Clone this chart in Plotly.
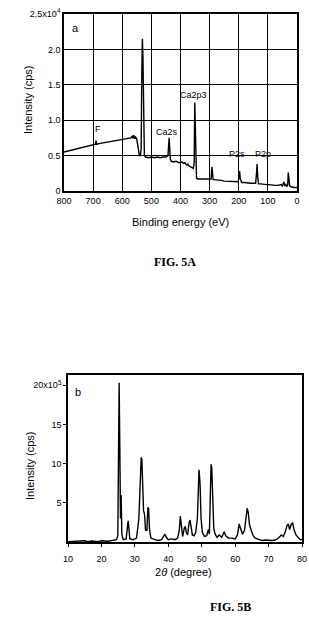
import plotly.graph_objects as go

# ---- FIG. 5A : XPS survey ----
xps_energy = [800, 760, 720, 700, 692, 690, 688, 680, 640, 600, 580, 570, 566, 563, 560, 557, 554, 550,
              545, 541, 538, 535, 533, 531, 529, 527, 524, 520, 510, 500, 490, 480, 470, 460, 450, 443,
              441, 439, 437, 435, 432, 425, 415, 405, 395, 390, 385, 380, 375, 370, 365, 360, 356, 353,
              351, 349, 347, 345, 340, 330, 320, 310, 300, 295, 292, 290, 288, 285, 280, 270, 260, 250,
              240, 230, 220, 210, 202, 199, 197, 195, 193, 190, 180, 170, 160, 150, 142, 139, 137, 135,
              132, 125, 115, 105, 95, 85, 75, 65, 55, 50, 45, 42, 38, 35, 32, 30, 28, 25, 20, 15, 10, 5, 0]
xps_intensity = [0.55, 0.59, 0.63, 0.65, 0.66, 0.71, 0.66, 0.67, 0.70, 0.73, 0.74, 0.75, 0.78, 0.74, 0.79, 0.74, 0.76, 0.73,
                 0.60, 0.50, 0.50, 0.60, 1.60, 2.15, 1.90, 0.80, 0.50, 0.48, 0.47, 0.48, 0.47, 0.48, 0.47, 0.48, 0.48, 0.50,
                 0.62, 0.75, 0.60, 0.45, 0.42, 0.41, 0.42, 0.40, 0.41, 0.39, 0.40, 0.37, 0.38, 0.35, 0.34, 0.33, 0.32, 0.40,
                 1.25, 0.90, 0.35, 0.18, 0.17, 0.17, 0.16, 0.17, 0.16, 0.17, 0.34, 0.20, 0.16, 0.16, 0.16, 0.15, 0.15, 0.14,
                 0.14, 0.14, 0.13, 0.13, 0.13, 0.20, 0.28, 0.18, 0.13, 0.12, 0.12, 0.11, 0.11, 0.11, 0.11, 0.25, 0.38, 0.20,
                 0.10, 0.10, 0.09, 0.09, 0.09, 0.08, 0.08, 0.08, 0.09, 0.07, 0.13, 0.07, 0.10, 0.06, 0.08, 0.26, 0.18, 0.07, 0.06, 0.05, 0.05, 0.05, 0.05]
xps_ytick_vals = [0, 0.5, 1.0, 1.5, 2.0, 2.5]
xps_ytick_text = ["0", "0.5", "1.0", "1.5", "2.0", "2.5x10<sup>4</sup>"]
xps_xtick_vals = [800, 700, 600, 500, 400, 300, 200, 100, 0]
xps_labels = ["F", "Ca2s", "Ca2p3", "P2s", "P2p"]
xps_label_x = [683, 448, 356, 205, 117]
xps_label_y = [0.88, 0.83, 1.35, 0.52, 0.52]

# ---- FIG. 5B : XRD ----
xrd_angle = [10, 12, 13, 15, 16, 17, 19, 20, 22, 23.5, 24.5, 24.9, 25.1, 25.3, 25.5, 25.7, 25.9, 26.1, 26.5,
             27.4, 27.8, 28.0, 28.2, 28.5, 29.5, 30.5, 31.2, 31.6, 31.9, 32.1, 32.3, 32.6, 32.9, 33.2, 33.6,
             33.9, 34.1, 34.4, 34.8, 36, 37, 38, 38.7, 39.0, 39.4, 40, 41, 42, 42.8, 43.3, 43.6, 43.9, 44.3,
             44.8, 45.1, 45.4, 45.8, 46.2, 46.5, 46.8, 47.2, 47.7, 48.2, 48.7, 49.0, 49.2, 49.5, 49.8, 50.2,
             50.8, 51.5, 52.0, 52.3, 52.6, 52.8, 53.0, 53.3, 53.6, 54.0, 54.6, 55.2, 56, 56.7, 57.2, 58, 59,
             60, 60.7, 61.2, 61.6, 62.2, 62.8, 63.3, 63.6, 63.9, 64.3, 64.8, 65.4, 66, 67, 68, 69, 70, 71, 72,
             73, 73.8, 74.4, 75, 75.5, 75.9, 76.3, 76.8, 77.2, 77.6, 78.2, 79, 79.5, 80]
xrd_intensity = [0.05, 0.1, 0.05, 0.15, 0.05, 0.12, 0.05, 0.15, 0.1, 0.2, 0.3, 0.8, 12, 20.3, 12, 3, 6, 1.0, 0.3,
                 0.4, 2.0, 2.7, 1.8, 0.4, 0.3, 0.5, 3, 6.5, 10.8, 10.5, 7, 4, 3.5, 1.5, 1.5,
                 4.4, 4.3, 1.5, 0.5, 0.3, 0.2, 0.3, 0.7, 1.0, 0.6, 0.3, 0.4, 0.3, 0.5, 1.5, 3.3, 1.8, 0.7,
                 1.8, 2.0, 1.2, 0.9, 2.4, 2.8, 2.0, 0.9, 0.8, 1.2, 3, 7.5, 9.2, 7.5, 3, 1.2,
                 0.7, 0.8, 1.6, 1.0, 5, 9.9, 9.5, 5, 1.8, 1.0, 0.6, 0.9, 0.6, 1.3, 0.8, 0.5, 0.5,
                 0.4, 0.9, 2.3, 1.8, 1.0, 1.5, 3.5, 4.3, 3.8, 2.2, 1.5, 0.8, 0.5, 0.3, 0.2, 0.25, 0.2, 0.2, 0.25,
                 0.5, 0.9, 0.7, 1.3, 2.1, 2.3, 1.6, 2.3, 2.4, 1.6, 0.9, 0.5, 0.3, 0.3]
xrd_ytick_vals = [5, 10, 15, 20]
xrd_ytick_text = ["5", "10", "15", "20x10<sup>5</sup>"]
xrd_xtick_vals = [10, 20, 30, 40, 50, 60, 70, 80]

W, H = 309, 633
FONT = "Liberation Sans, Arial, sans-serif"
SERIF = "Liberation Serif, Times New Roman, serif"

def px(x):
    return x / W

def py(y):
    return 1 - y / H

fig = go.Figure()
fig.add_trace(go.Scatter(x=xps_energy, y=xps_intensity, mode="lines",
                         line=dict(color="black", width=1.4), xaxis="x", yaxis="y", showlegend=False))
fig.add_trace(go.Scatter(x=xrd_angle, y=xrd_intensity, mode="lines",
                         line=dict(color="black", width=1.4), xaxis="x2", yaxis="y2", showlegend=False))

axis_common = dict(showline=True, linecolor="black", linewidth=1.6, mirror=True, zeroline=False,
                   automargin=False, tickfont=dict(family=FONT, size=9, color="black"))

fig.update_layout(
    width=W, height=H, margin=dict(l=0, r=0, t=0, b=0, autoexpand=False),
    paper_bgcolor="white", plot_bgcolor="white",
    xaxis=dict(domain=[px(64), px(297)], range=[800, 0], anchor="y",
               tickvals=xps_xtick_vals, showgrid=True, gridcolor="black", gridwidth=1.4,
               ticks="", **axis_common),
    yaxis=dict(domain=[py(191), py(14)], range=[0, 2.5], anchor="x",
               tickvals=xps_ytick_vals, ticktext=xps_ytick_text, showgrid=True, gridcolor="black", gridwidth=1.4,
               ticks="", **axis_common),
    xaxis2=dict(domain=[px(68), px(302)], range=[10, 80], anchor="y2",
                tickvals=xrd_xtick_vals, showgrid=False, ticks="outside", ticklen=3, tickcolor="black",
                ticklabelstandoff=4, **axis_common),
    yaxis2=dict(domain=[py(542), py(375)], range=[0, 21.3], anchor="x2",
                tickvals=xrd_ytick_vals, ticktext=xrd_ytick_text, showgrid=False, ticks="outside", ticklen=3,
                tickcolor="black", **axis_common),
)

def paper_text(x, y, text, font, angle=0):
    fig.add_annotation(x=px(x), y=py(y), xref="paper", yref="paper", text=text, showarrow=False,
                       xanchor="center", yanchor="middle", textangle=angle, font=font)

# axis titles
title_font = dict(family=FONT, size=11, color="black")
paper_text(180, 222, "Binding energy (eV)", title_font)
paper_text(28, 100, "Intensity (cps)", title_font, -90)
paper_text(183, 572, "2<i>θ</i> (degree)", title_font)
paper_text(30, 466, "Intensity (cps)", title_font, -90)

for t, x, y in zip(xps_labels, xps_label_x, xps_label_y):
    fig.add_annotation(x=x, y=y, xref="x", yref="y", text=t, showarrow=False,
                       xanchor="center", yanchor="middle",
                       font=dict(family=FONT, size=9, color="black"))

paper_text(75, 28, "a", dict(family=FONT, size=11, color="black"))
paper_text(78, 392, "b", dict(family=FONT, size=11, color="black"))
paper_text(175, 262, "<b>FIG. 5A</b>", dict(family=SERIF, size=12, color="black"))
paper_text(230, 607, "<b>FIG. 5B</b>", dict(family=SERIF, size=12, color="black"))

fig.write_html("out.html")
